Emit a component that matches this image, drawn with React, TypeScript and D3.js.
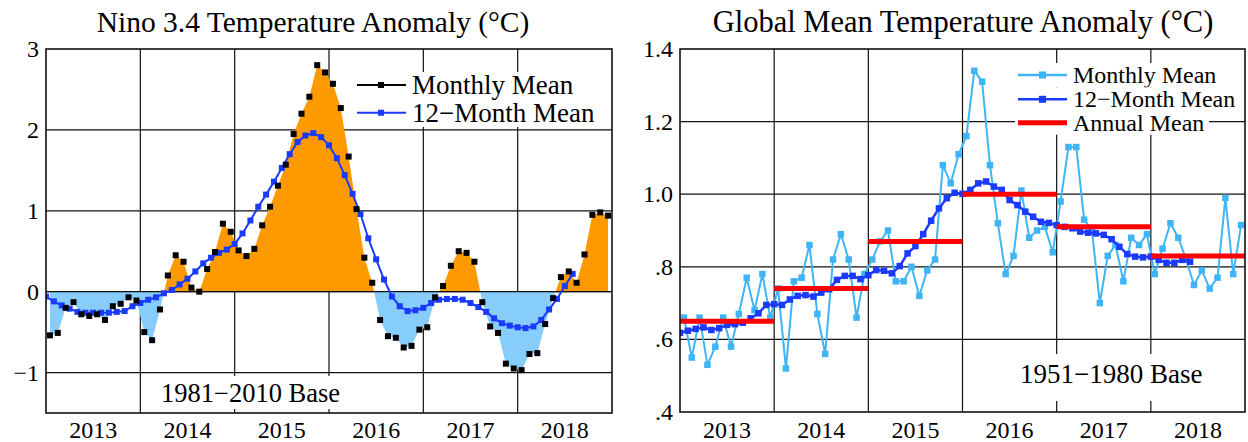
import React from 'react';
import * as d3 from 'd3';

// Months are counted from January 2013; six years are shown.
const MONTHS = 72;
const years = ['2013', '2014', '2015', '2016', '2017', '2018'];

// Nino 3.4 monthly anomaly (°C, 1981–2010 base), Jan 2013 – Dec 2018
const ninoMonthly = [
  -0.54, -0.51, -0.2, -0.13, -0.28, -0.3, -0.28, -0.35, -0.18, -0.15, -0.07, -0.11,
  -0.5, -0.6, -0.22, 0.2, 0.45, 0.37, 0.05, 0.0, 0.28, 0.49, 0.84, 0.74,
  0.51, 0.44, 0.53, 0.82, 1.05, 1.31, 1.57, 1.95, 2.2, 2.41, 2.8, 2.71,
  2.57, 2.27, 1.67, 1.02, 0.42, 0.11, -0.35, -0.55, -0.57, -0.69, -0.67, -0.47,
  -0.44, -0.07, 0.07, 0.32, 0.5, 0.48, 0.37, -0.13, -0.43, -0.51, -0.89, -0.95,
  -0.97, -0.77, -0.76, -0.4, -0.08, 0.18, 0.25, 0.11, 0.46, 0.95, 0.98, 0.94,
];

// Nino 3.4 centred 12-month running mean, one value per month boundary from Jan 2013
const nino12Month = [
  -0.06, -0.12, -0.17, -0.21, -0.25, -0.26, -0.26, -0.26, -0.26, -0.25, -0.24, -0.18,
  -0.14, -0.1, -0.07, -0.02, 0.02, 0.09, 0.16, 0.25, 0.35, 0.42, 0.48, 0.52,
  0.59, 0.72, 0.88, 1.05, 1.2, 1.36, 1.53, 1.7, 1.85, 1.93, 1.96, 1.91,
  1.81, 1.65, 1.44, 1.21, 0.96, 0.66, 0.4, 0.15, -0.06, -0.18, -0.24, -0.23,
  -0.2, -0.14, -0.1, -0.09, -0.09, -0.1, -0.14, -0.19, -0.25, -0.33, -0.39, -0.42,
  -0.44, -0.45, -0.43, -0.35, -0.22, -0.09, 0.07, 0.22,
];

const ninoTicks = [3, 2, 1, 0, -1];
const ninoTickLabels = ['3', '2', '1', '0', '\u22121'];

// Global mean temperature monthly anomaly (°C, 1951–1980 base), Jan 2013 – Dec 2018
const gmtMonthly = [
  0.66, 0.55, 0.66, 0.53, 0.58, 0.66, 0.58, 0.67, 0.77, 0.68, 0.78, 0.66,
  0.74, 0.52, 0.76, 0.77, 0.86, 0.67, 0.56, 0.82, 0.89, 0.82, 0.66, 0.78,
  0.82, 0.87, 0.9, 0.76, 0.76, 0.8, 0.72, 0.79, 0.82, 1.08, 1.03, 1.11,
  1.16, 1.34, 1.31, 1.08, 0.92, 0.78, 0.83, 1.01, 0.88, 0.9, 0.91, 0.84,
  0.98, 1.13, 1.13, 0.93, 0.9, 0.7, 0.83, 0.86, 0.76, 0.88, 0.86, 0.89,
  0.78, 0.85, 0.92, 0.88, 0.82, 0.75, 0.79, 0.74, 0.77, 0.99, 0.78, 0.915,
];

// Global mean centred 12-month running mean, one value per month boundary from Jan 2013
const gmt12Month = [
  0.618, 0.624, 0.629, 0.633, 0.626, 0.631, 0.64, 0.642, 0.646, 0.658, 0.672, 0.695,
  0.697, 0.695, 0.71, 0.72, 0.722, 0.718, 0.729, 0.738, 0.764, 0.775, 0.775, 0.766,
  0.777, 0.791, 0.789, 0.782, 0.802, 0.837, 0.857, 0.89, 0.927, 0.961, 0.989, 1.004,
  1.001, 1.012, 1.03, 1.035, 1.021, 1.012, 0.984, 0.97, 0.952, 0.938, 0.924, 0.921,
  0.915, 0.91, 0.906, 0.897, 0.894, 0.892, 0.888, 0.876, 0.855, 0.835, 0.828, 0.826,
  0.828, 0.819, 0.811, 0.811, 0.819, 0.814,
];

// Calendar-year means
const gmtAnnual = [0.65, 0.74, 0.87, 1.0, 0.91, 0.83];

const gmtTicks = [1.4, 1.2, 1.0, 0.8, 0.6, 0.4];
const gmtTickLabels = ['1.4', '1.2', '1.0', '.8', '.6', '.4'];

const FONT = "'Liberation Serif', 'Times New Roman', Times, serif";
const ORANGE = '#ff9900';
const SKY = '#86cdfb';
const BLUE = '#1a3aff';
const LIGHT = '#3fb5f8';
const RED = '#ff0000';

function Squares({ data, x, y, size, fill }: any) {
  return (
    <g fill={fill}>
      {data.map((d: number, i: number) => (
        <rect key={i} x={x(d, i) - size / 2} y={y(d) - size / 2} width={size} height={size} />
      ))}
    </g>
  );
}

function Frame({ x0, x1, y0, y1, xs, ys, yTicks }: any) {
  const yearEdges = d3.range(12, MONTHS, 12);
  return (
    <g stroke="#111" fill="none">
      {yTicks.map((t: number) => (
        <line key={'h' + t} x1={x0} x2={x1} y1={ys(t)} y2={ys(t)} strokeWidth={1.2} />
      ))}
      {yearEdges.map((m: number) => (
        <line key={'v' + m} x1={xs(m)} x2={xs(m)} y1={y0} y2={y1} strokeWidth={1.2} />
      ))}
    </g>
  );
}

function NinoPanel() {
  const x0 = 46, x1 = 612, y0 = 49, y1 = 413;
  const xs = d3.scaleLinear().domain([0, MONTHS]).range([x0, x1]);
  const ys = d3.scaleLinear().domain([-1.5, 3]).range([y1, y0]);
  const zero = ys(0);

  const area = d3.area<number>()
    .x((_, i) => xs(i + 0.5))
    .y0(zero)
    .y1((d) => ys(d))(ninoMonthly) as string;
  const runLine = d3.line<number>()
    .x((_, i) => xs(i))
    .y((d) => ys(d))(nino12Month) as string;

  const legendRows = [
    { label: 'Monthly Mean', color: '#000', y: 85 },
    { label: '12\u2212Month Mean', color: BLUE, y: 112.7 },
  ];

  return (
    <g>
      <defs>
        <clipPath id="ninoPlot"><rect x={x0} y={y0} width={x1 - x0} height={y1 - y0} /></clipPath>
        <clipPath id="ninoAbove"><rect x={x0} y={y0} width={x1 - x0} height={zero - y0} /></clipPath>
        <clipPath id="ninoBelow"><rect x={x0} y={zero} width={x1 - x0} height={y1 - zero} /></clipPath>
      </defs>
      <text x={313} y={32} fontSize={29.5} textAnchor="middle" fontFamily={FONT}>
        Nino 3.4 Temperature Anomaly (°C)
      </text>
      <Frame x0={x0} x1={x1} y0={y0} y1={y1} xs={xs} ys={ys} yTicks={[-1, 0, 1, 2]} />
      <path d={area} fill={ORANGE} clipPath="url(#ninoAbove)" />
      <path d={area} fill={SKY} clipPath="url(#ninoBelow)" />
      <line x1={x0} x2={x1} y1={zero} y2={zero} stroke="#111" strokeWidth={1.2} />
      <g clipPath="url(#ninoPlot)">
        <path d={runLine} fill="none" stroke={BLUE} strokeWidth={2} />
        <Squares data={nino12Month} x={(_: number, i: number) => xs(i)} y={ys} size={6} fill={BLUE} />
        <Squares data={ninoMonthly} x={(_: number, i: number) => xs(i + 0.5)} y={ys} size={6} fill="#000" />
      </g>
      {/* legend */}
      <rect x={352} y={72} width={250} height={55} fill="#fff" />
      {legendRows.map((r) => (
        <g key={r.label}>
          <line x1={357} x2={406} y1={r.y} y2={r.y} stroke={r.color} strokeWidth={2} />
          <rect x={378} y={r.y - 3} width={6} height={6} fill={r.color} />
          <text x={412} y={r.y + 9} fontSize={27} fontFamily={FONT}>{r.label}</text>
        </g>
      ))}
      {/* base period note */}
      <rect x={155} y={376} width={195} height={33} fill="#fff" />
      <text x={161} y={402} fontSize={26.5} fontFamily={FONT}>1981{'\u2212'}2010 Base</text>
      <rect x={x0} y={y0} width={x1 - x0} height={y1 - y0} fill="none" stroke="#111" strokeWidth={1.6} />
      {ninoTicks.map((t, i) => (
        <text key={t} x={39} y={ys(t) + 8} fontSize={24} textAnchor="end" fontFamily={FONT}>
          {ninoTickLabels[i]}
        </text>
      ))}
      {years.map((yr, i) => (
        <text key={yr} x={xs(i * 12 + 6)} y={438} fontSize={24} textAnchor="middle" fontFamily={FONT}>
          {yr}
        </text>
      ))}
    </g>
  );
}

function GlobalPanel() {
  const x0 = 680, x1 = 1245, y0 = 49, y1 = 412;
  const xs = d3.scaleLinear().domain([0, MONTHS]).range([x0, x1]);
  const ys = d3.scaleLinear().domain([0.4, 1.4]).range([y1, y0]);

  const monthlyLine = d3.line<number>()
    .x((_, i) => xs(i + 0.5))
    .y((d) => ys(d))(gmtMonthly) as string;
  const runLine = d3.line<number>()
    .x((_, i) => xs(i))
    .y((d) => ys(d))(gmt12Month) as string;

  const legendRows = [
    { label: 'Monthly Mean', y: 75, w: 148, kind: 'light' },
    { label: '12\u2212Month Mean', y: 99.3, w: 168, kind: 'run' },
    { label: 'Annual Mean', y: 122.7, w: 136, kind: 'annual' },
  ];

  return (
    <g>
      <defs>
        <clipPath id="gmtPlot"><rect x={x0} y={y0} width={x1 - x0} height={y1 - y0} /></clipPath>
      </defs>
      <text x={963} y={32} fontSize={30.5} textAnchor="middle" fontFamily={FONT}>
        Global Mean Temperature Anomaly (°C)
      </text>
      <Frame x0={x0} x1={x1} y0={y0} y1={y1} xs={xs} ys={ys} yTicks={[0.6, 0.8, 1.0, 1.2]} />
      <g clipPath="url(#gmtPlot)">
        <path d={monthlyLine} fill="none" stroke={LIGHT} strokeWidth={2} />
        <Squares data={gmtMonthly} x={(_: number, i: number) => xs(i + 0.5)} y={ys} size={6.5} fill={LIGHT} />
        <path d={runLine} fill="none" stroke={BLUE} strokeWidth={2.5} />
        <Squares data={gmt12Month} x={(_: number, i: number) => xs(i)} y={ys} size={6.5} fill={BLUE} />
        {gmtAnnual.map((v, i) => (
          <line key={i} x1={xs(i * 12)} x2={xs(i * 12 + 12)} y1={ys(v)} y2={ys(v)} stroke={RED} strokeWidth={5} />
        ))}
      </g>
      {/* legend */}
      {legendRows.map((r) => (
        <g key={r.label}>
          <rect x={1015} y={r.y - 12} width={58 + r.w} height={24} fill="#fff" />
          {r.kind === 'annual' ? (
            <line x1={1018} x2={1067} y1={r.y} y2={r.y} stroke={RED} strokeWidth={5} />
          ) : (
            <g>
              <line x1={1018} x2={1067} y1={r.y} y2={r.y} stroke={r.kind === 'light' ? LIGHT : BLUE} strokeWidth={2.5} />
              <rect x={1039} y={r.y - 3.5} width={7} height={7} fill={r.kind === 'light' ? LIGHT : BLUE} />
            </g>
          )}
          <text x={1073} y={r.y + 8} fontSize={24} fontFamily={FONT}>{r.label}</text>
        </g>
      ))}
      {/* base period note */}
      <rect x={1013} y={354} width={197} height={47} fill="#fff" />
      <text x={1020} y={383} fontSize={27} fontFamily={FONT}>1951{'\u2212'}1980 Base</text>
      <rect x={x0} y={y0} width={x1 - x0} height={y1 - y0} fill="none" stroke="#111" strokeWidth={1.6} />
      {gmtTicks.map((t, i) => (
        <text key={t} x={673} y={ys(t) + 8} fontSize={24} textAnchor="end" fontFamily={FONT}>
          {gmtTickLabels[i]}
        </text>
      ))}
      {years.map((yr, i) => (
        <text key={yr} x={xs(i * 12 + 6)} y={438} fontSize={24} textAnchor="middle" fontFamily={FONT}>
          {yr}
        </text>
      ))}
    </g>
  );
}

export default function App() {
  return (
    <svg
      width={1248}
      height={442}
      viewBox="0 0 1248 442"
      style={{ position: 'absolute', left: 0, top: 0, background: '#fff' }}
    >
      <rect width={1248} height={442} fill="#fff" />
      <NinoPanel />
      <GlobalPanel />
    </svg>
  );
}
